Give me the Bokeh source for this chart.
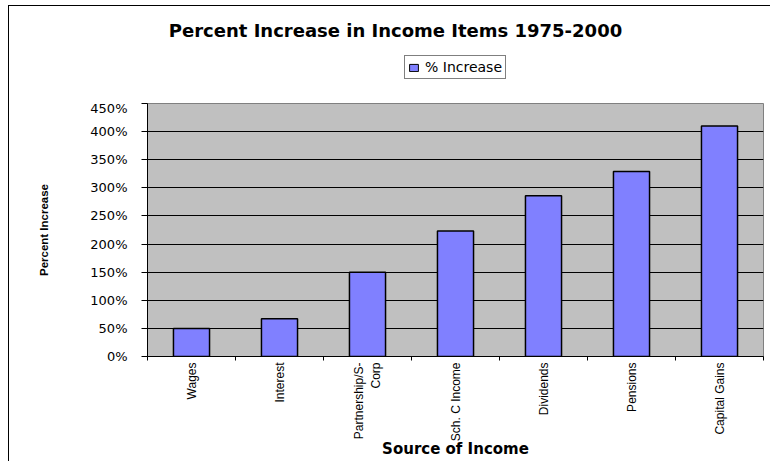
import math
from bokeh.plotting import figure
from bokeh.layouts import column
from bokeh.models import (Range1d, FixedTicker, PrintfTickFormatter, Legend, Label,
                          LegendItem, ColumnDataSource, LinearAxis, Grid)
from bokeh.embed import file_html
from bokeh.resources import INLINE

# ---- data ----
categories = ["Wages", "Interest", "Partnership/S-Corp", "Sch. C Income",
              "Dividends", "Pensions", "Capital Gains"]
tick_labels = ["Wages", "Interest", "Partnership/S-\nCorp", "Sch. C Income",
               "Dividends", "Pensions", "Capital Gains"]
pct_increase = [50, 67, 150, 223, 286, 329, 410]
y_ticks = [0, 50, 100, 150, 200, 250, 300, 350, 400, 450]

title_text = "Percent Increase in Income Items 1975-2000"
series_name = "% Increase"
x_title = "Source of Income"
y_title = "Percent Increase"

BAR_COLOR = "#8080FF"
n = len(categories)
centers = [i + 0.5 for i in range(n)]
bounds = [i for i in range(n + 1)]

src = ColumnDataSource(dict(x=centers, top=pct_increase, cat=categories))

# ---------------- header: title + legend ----------------
head = figure(width=770, height=100, output_backend="svg", toolbar_location=None,
              x_range=Range1d(0, n), y_range=Range1d(0, 450),
              x_axis_type=None, y_axis_type=None,
              min_border_left=0, min_border_right=0, min_border_top=0,
              min_border_bottom=0)
head.outline_line_color = None
head.background_fill_color = None
head.border_fill_color = None
head.xgrid.visible = False
head.ygrid.visible = False

head.add_layout(Label(x=248, y=70, x_units="screen", y_units="screen",
                      text=title_text, text_align="center", text_baseline="middle",
                      text_font="DejaVu Sans", text_font_style="bold",
                      text_font_size="18px", text_color="black"))

# legend swatch renderer: same series, drawn with zero size in the header
proxy = head.vbar(x="x", top="top", bottom="top", width=0, source=src,
                  fill_color=BAR_COLOR, line_color="black", line_width=1)
legend = Legend(items=[LegendItem(label=series_name, renderers=[proxy])],
                location=(257, 21), orientation="horizontal",
                border_line_color="black", border_line_width=1,
                background_fill_color="white", background_fill_alpha=1,
                label_text_font="DejaVu Sans", label_text_font_size="14px",
                label_text_color="black",
                glyph_width=11, glyph_height=9, label_standoff=6,
                padding=3, margin=0, spacing=0, label_height=12)
head.add_layout(legend, "center")

# ---------------- main chart ----------------
p = figure(width=770, height=361, output_backend="svg", toolbar_location=None,
           x_range=Range1d(0, n), y_range=Range1d(0, 450),
           x_axis_type=None, y_axis_type=None,
           min_border_left=147, min_border_right=7, min_border_top=3,
           min_border_bottom=104)
p.background_fill_color = "#C0C0C0"
p.border_fill_color = None
p.outline_line_color = "#808080"
p.outline_line_width = 1

# y axis
yaxis = LinearAxis(ticker=FixedTicker(ticks=y_ticks),
                   formatter=PrintfTickFormatter(format="%d%%"))
yaxis.axis_line_color = "black"
yaxis.major_tick_line_color = "black"
yaxis.major_tick_out = 6
yaxis.major_tick_in = 0
yaxis.minor_tick_out = 0
yaxis.minor_tick_in = 0
yaxis.major_label_standoff = 14
yaxis.major_label_text_font = "DejaVu Sans"
yaxis.major_label_text_font_size = "13px"
yaxis.major_label_text_color = "black"
yaxis.axis_label = y_title
yaxis.axis_label_text_font = "Liberation Sans"
yaxis.axis_label_text_font_style = "bold"
yaxis.axis_label_text_font_size = "11.5px"
yaxis.axis_label_text_color = "black"
yaxis.axis_label_standoff = 37
p.add_layout(yaxis, "left")

# x axis (labels at category centres, ticks at category boundaries)
xaxis = LinearAxis(ticker=FixedTicker(ticks=centers, minor_ticks=bounds))
xaxis.major_label_overrides = {c: t for c, t in zip(centers, tick_labels)}
xaxis.axis_line_color = "black"
xaxis.major_tick_out = 0
xaxis.major_tick_in = 0
xaxis.minor_tick_out = 4
xaxis.minor_tick_in = 0
xaxis.minor_tick_line_color = "black"
xaxis.major_label_orientation = math.pi / 2
xaxis.major_label_standoff = 2
xaxis.major_label_text_font = "Liberation Sans"
xaxis.major_label_text_font_size = "12px"
xaxis.major_label_text_color = "black"
xaxis.axis_label = x_title
xaxis.axis_label_text_font = "DejaVu Sans"
xaxis.axis_label_text_font_style = "bold"
xaxis.axis_label_text_font_size = "15px"
xaxis.axis_label_text_color = "black"
xaxis.axis_label_standoff = -4
p.add_layout(xaxis, "below")

# horizontal grid lines
grid = Grid(dimension=1, ticker=FixedTicker(ticks=y_ticks[1:-1]),
            grid_line_color="black", grid_line_width=1)
p.add_layout(grid)

# bars
p.vbar(x="x", top="top", width=0.41, bottom=0, source=src,
       fill_color=BAR_COLOR, line_color="black", line_width=1.5)

layout = column(head, p, spacing=0)
# chart-area border (left and top edges, as in the cropped original)
layout.styles = {
    "background": ("linear-gradient(#000, #000) 8px 5px / 1px 100% no-repeat, "
                   "linear-gradient(#000, #000) 8px 5px / 100% 1px no-repeat, #fff"),
}

open("out.html", "w").write(file_html(layout, INLINE))
